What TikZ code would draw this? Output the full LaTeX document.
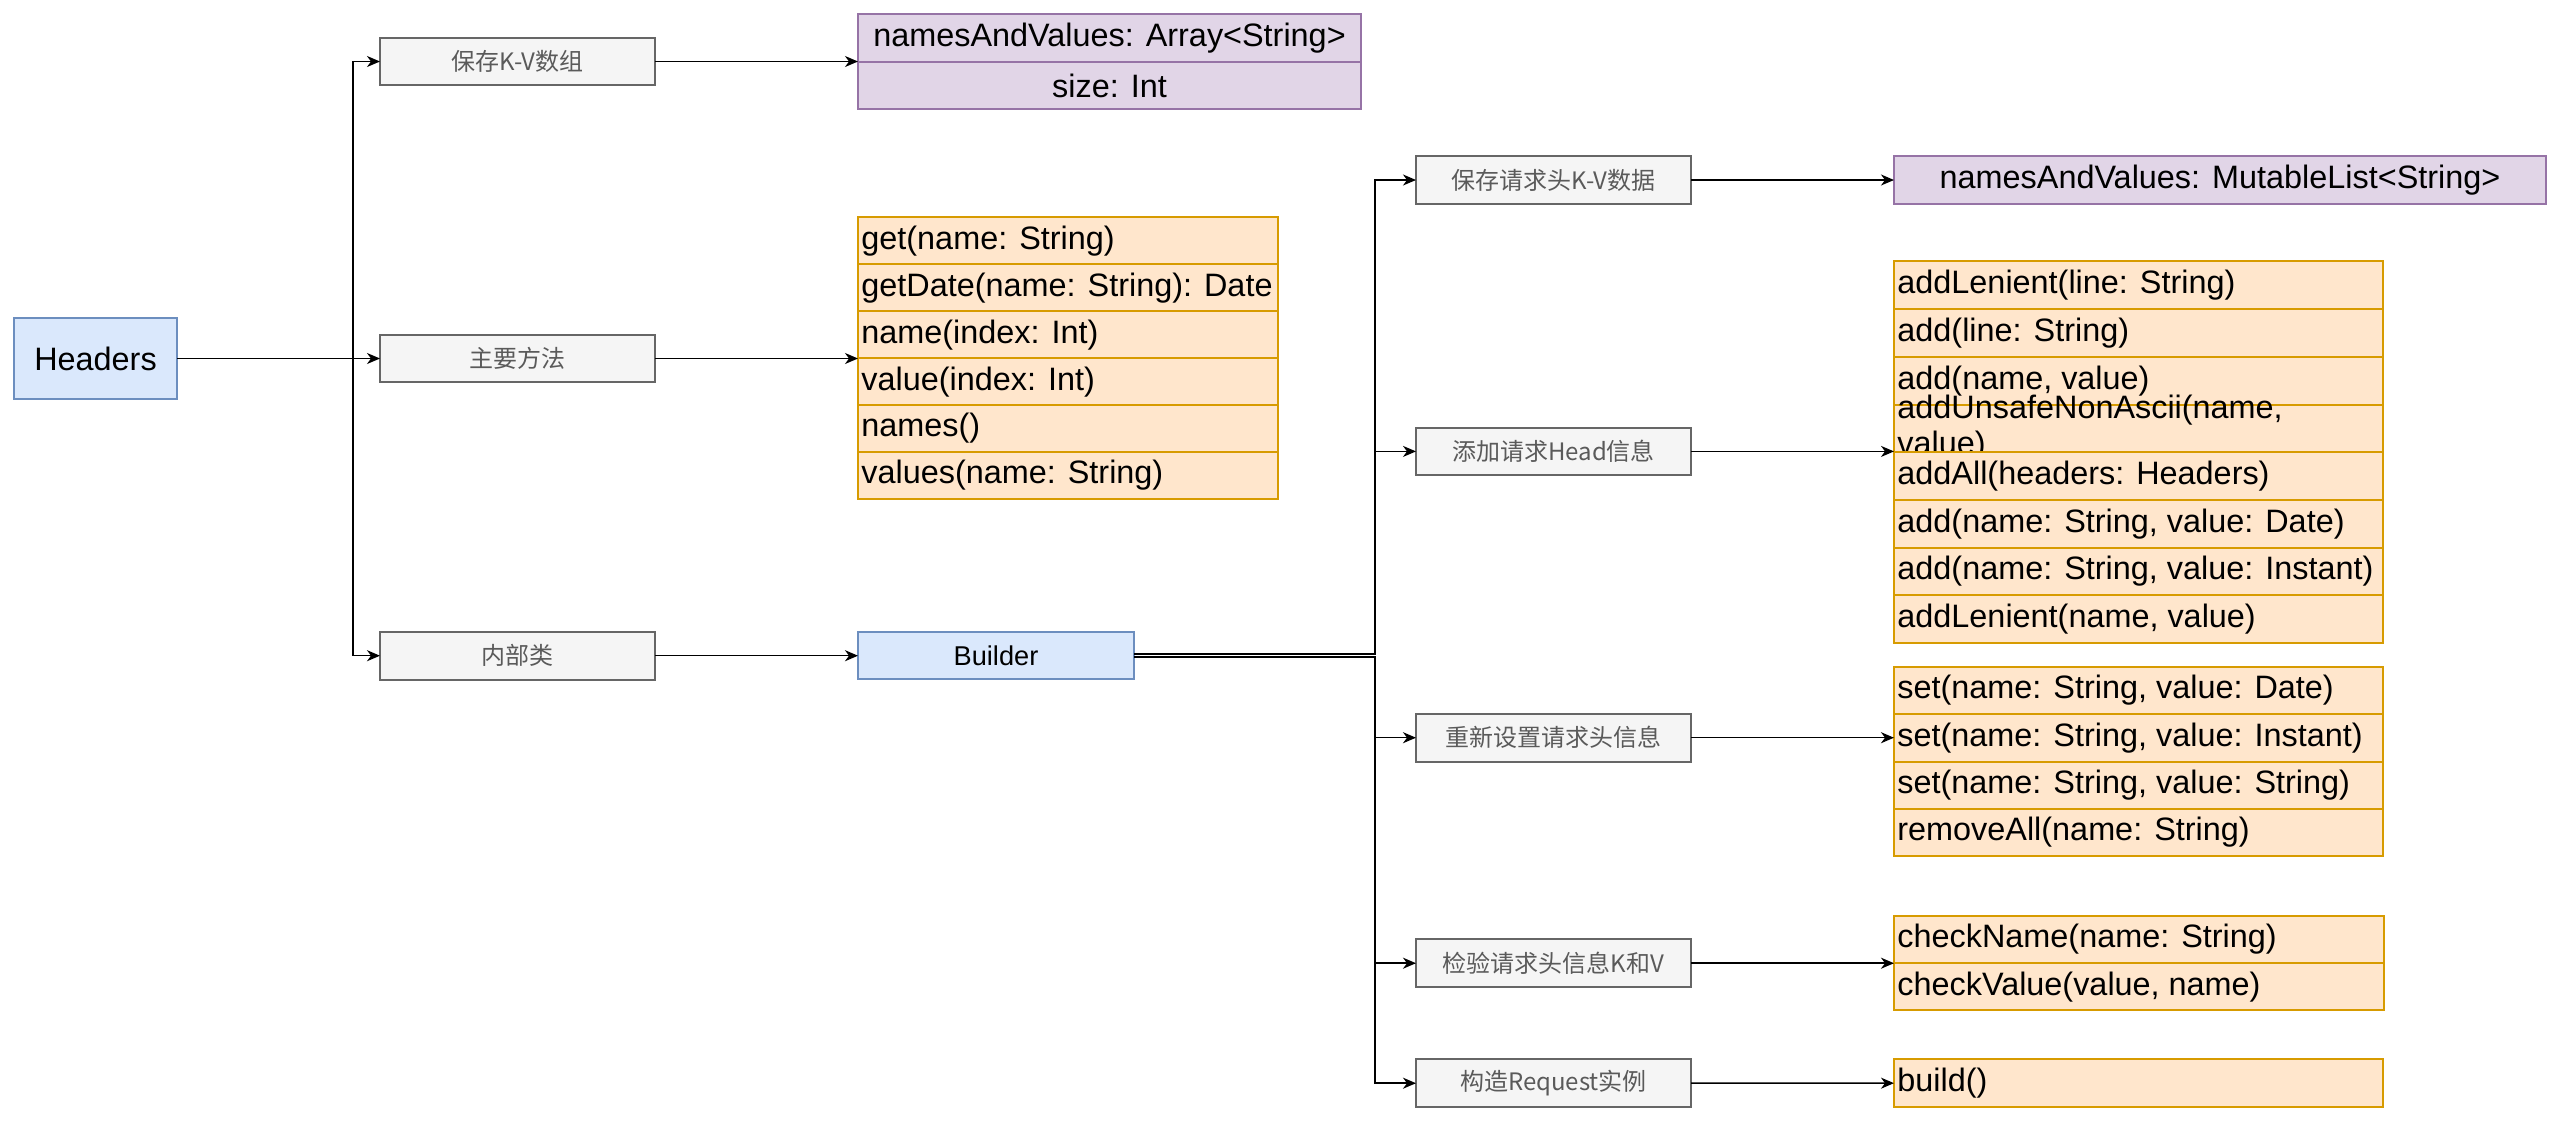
\documentclass[tikz,border=0pt]{standalone}
\usepackage{fontspec}
\setmainfont{Liberation Sans}
\newfontfamily\cjk{Noto Sans CJK SC}
\usetikzlibrary{arrows.meta}
\definecolor{gfill}{HTML}{F5F5F5}
\definecolor{gline}{HTML}{666666}
\definecolor{gtext}{HTML}{5A5A5A}
\definecolor{bfill}{HTML}{DAE8FC}
\definecolor{bline}{HTML}{6C8EBF}
\definecolor{pfill}{HTML}{E1D5E7}
\definecolor{pline}{HTML}{9673A6}
\definecolor{ofill}{HTML}{FFE6CC}
\definecolor{oline}{HTML}{D79B00}
\newcommand\bigfs{\fontsize{16.2}{19.4}\selectfont}
\newcommand\twofs{\fontsize{16.2}{18}\selectfont}
\tikzset{
  boxbase/.style={rectangle, inner sep=0pt, outer sep=0pt, line width=1pt},
  graybox/.style={boxbase, fill=gfill, draw=gline, minimum width=137.5pt, minimum height=23.8pt, text=gtext, font=\cjk\fontsize{12}{14}\selectfont},
  bluebox/.style={boxbase, fill=bfill, draw=bline},
  purplebox/.style={boxbase, fill=pfill, draw=pline, font=\bigfs},
  orow/.style={boxbase, fill=ofill, draw=oline, anchor=north west},
  rtext/.style={anchor=west, inner sep=0pt, xshift=1.5pt, font=\bigfs},
  conn/.style={draw=black, line width=0.75pt},
  arr/.style={conn, -{Stealth[length=6.5pt,width=5.5pt,inset=2pt]}}
}
\newcommand\lrow[6]{%
  \node[orow, minimum width=#4, minimum height=#5] (#1) at (#2,#3) {};
  \node[rtext] (#1t) at (#1.west) {#6};}
\begin{document}
\begin{tikzpicture}[x=0.5pt,y=-0.5pt]
\useasboundingbox (0,0) rectangle (2560,1121);
\fill[white] (0,0) rectangle (2560,1121);

% left part
\node[bluebox, minimum width=81.5pt, minimum height=40.5pt, font=\bigfs] (H) at (95.5,358.5) {Headers};
\node[graybox] (kv) at (517.5,61.5) {保存K-V数组};
\node[graybox] (main) at (517.5,358.5) {主要方法};
\node[graybox] (inner) at (517.5,655.7) {内部类};

\node[purplebox, minimum width=251.5pt, minimum height=23.85pt, anchor=north west] (nv1) at (858,13.8) {namesAndValues: Array<String>};
\node[purplebox, minimum width=251.5pt, minimum height=23.85pt, anchor=north west] (nv2) at (858,61.6) {size: Int};

\lrow{m1}{858}{217.4}{210pt}{23.47pt}{get(name: String)}
\lrow{m2}{858}{264.3}{210pt}{23.47pt}{getDate(name: String): Date}
\lrow{m3}{858}{311.3}{210pt}{23.47pt}{name(index: Int)}
\lrow{m4}{858}{358.2}{210pt}{23.47pt}{value(index: Int)}
\lrow{m5}{858}{405.1}{210pt}{23.47pt}{names()}
\lrow{m6}{858}{452.1}{210pt}{23.47pt}{values(name: String)}

\node[bluebox, minimum width=138pt, minimum height=23.75pt, font=\fontsize{13.6}{16}\selectfont] (B) at (996,655.7) {Builder};

% right part
\node[graybox] (r1) at (1553.5,180) {保存请求头K-V数据};
\node[graybox] (r2) at (1553.5,451.4) {添加请求Head信息};
\node[graybox] (r3) at (1553.5,737.7) {重新设置请求头信息};
\node[graybox] (r4) at (1553.5,963.2) {检验请求头信息K和V};
\node[graybox] (r5) at (1553.5,1083.2) {构造Request实例};

\node[purplebox, minimum width=326pt, minimum height=24pt, anchor=north west] (mut) at (1894,156) {namesAndValues: MutableList<String>};

\lrow{a1}{1894}{261.4}{244.5pt}{23.85pt}{addLenient(line: String)}
\lrow{a2}{1894}{309.1}{244.5pt}{23.85pt}{add(line: String)}
\lrow{a3}{1894}{356.8}{244.5pt}{23.85pt}{add(name, value)}
\node[orow, minimum width=244.5pt, minimum height=23.85pt] (a4) at (1894,404.5) {};
\node[rtext, align=left, font=\twofs] (a4t) at (a4.west) {addUnsafeNonAscii(name,\\value)};
\lrow{a5}{1894}{452.2}{244.5pt}{23.85pt}{addAll(headers: Headers)}
\lrow{a6}{1894}{499.9}{244.5pt}{23.85pt}{add(name: String, value: Date)}
\lrow{a7}{1894}{547.6}{244.5pt}{23.85pt}{add(name: String, value: Instant)}
\lrow{a8}{1894}{595.3}{244.5pt}{23.85pt}{addLenient(name, value)}

\lrow{s1}{1894}{666.7}{244.5pt}{23.7pt}{set(name: String, value: Date)}
\lrow{s2}{1894}{714.1}{244.5pt}{23.7pt}{set(name: String, value: Instant)}
\lrow{s3}{1894}{761.5}{244.5pt}{23.7pt}{set(name: String, value: String)}
\lrow{s4}{1894}{808.9}{244.5pt}{23.7pt}{removeAll(name: String)}

\lrow{c1}{1894}{915.7}{245pt}{23.65pt}{checkName(name: String)}
\lrow{c2}{1894}{963.0}{245pt}{23.65pt}{checkValue(value, name)}

\lrow{bd}{1894}{1059.3}{244.5pt}{23.85pt}{build()}

% connectors: left
\coordinate (T1) at (353,358.5);
\draw[arr] (H.east) -- (T1) |- (kv.west);
\draw[arr] (H.east) -- (main.west);
\draw[arr] (H.east) -- (T1) |- (inner.west);

\draw[arr] (kv.east) -- (kv.east -| nv1.west);
\draw[arr] (main.east) -- (main.east -| m1.west);
\draw[arr] (inner.east) -- (B.west);

% connectors: builder
\coordinate (T2) at (1375,655.7);
\draw[arr] ([yshift=0.8pt]B.east) -- ([yshift=0.8pt]T2) |- (r1.west);
\draw[arr] ([yshift=0.8pt]B.east) -- ([yshift=0.8pt]T2) |- (r2.west);
\draw[arr] ([yshift=-0.6pt]B.east) -- ([yshift=-0.6pt]T2) |- (r3.west);
\draw[arr] ([yshift=-0.6pt]B.east) -- ([yshift=-0.6pt]T2) |- (r4.west);
\draw[arr] ([yshift=-0.6pt]B.east) -- ([yshift=-0.6pt]T2) |- (r5.west);

\draw[arr] (r1.east) -- (mut.west);
\draw[arr] (r2.east) -- (r2.east -| a1.west);
\draw[arr] (r3.east) -- (r3.east -| s1.west);
\draw[arr] (r4.east) -- (r4.east -| c1.west);
\draw[arr] (r5.east) -- (bd.west);
\end{tikzpicture}
\end{document}
